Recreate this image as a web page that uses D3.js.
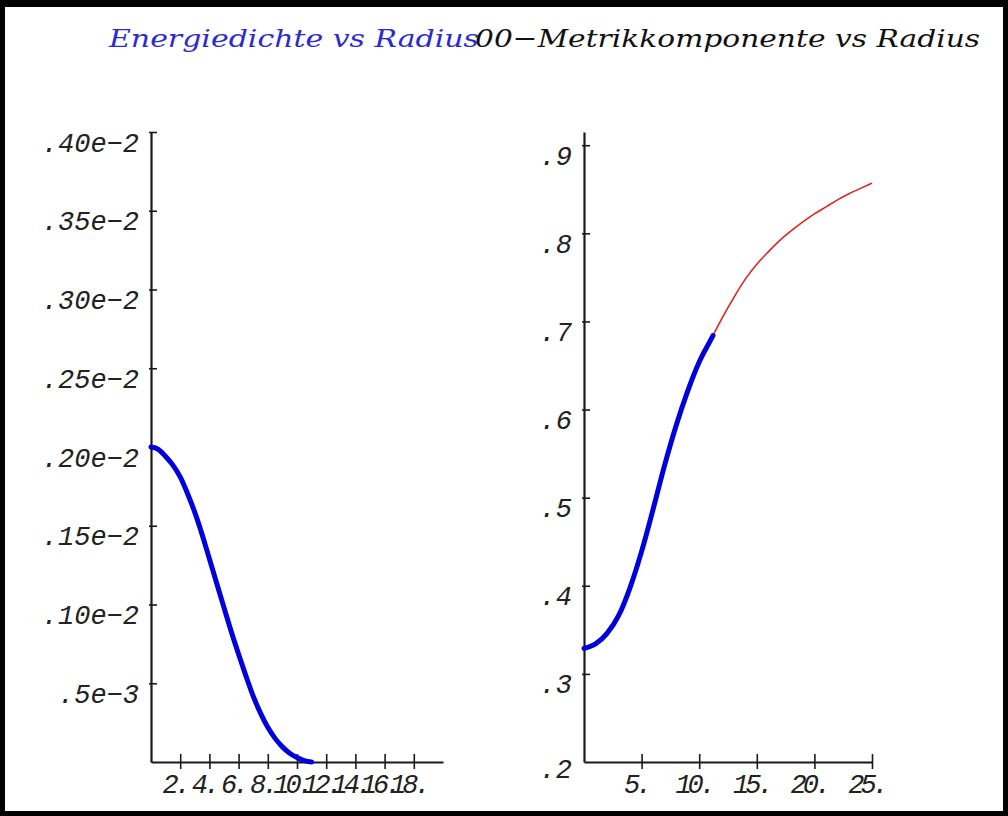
<!DOCTYPE html>
<html>
<head>
    <meta charset="utf-8">
    <style>
        body { margin: 0; background: #fff; }
    </style>
</head>

<body onload='init()'>
    <svg width="1008" height="816"></svg>
    <script src="https://d3js.org/d3.v7.min.js"></script>
    <script>
        // left plot: energy density vs radius
        var leftRadius = [0, 0.5, 1, 1.5, 2, 2.5, 3, 3.5, 4, 4.5, 5, 5.5, 6, 6.5, 7, 7.5, 8, 8.5, 9, 9.5, 10, 10.5, 11];
        var leftDensity = [0.002000, 0.001985, 0.001940, 0.001885, 0.001810, 0.001705, 0.001585, 0.001445, 0.001290,
            0.001135, 0.000980, 0.000827, 0.000684, 0.000547, 0.000418, 0.000310, 0.000220, 0.000150, 0.000096,
            0.000056, 0.000029, 0.000009, 0];

        // right plot: 00 metric component, inside (blue) and outside (red)
        var innerRadius = [0, 1, 2, 3, 4, 5, 6, 7, 8, 9, 10, 11, 11.2];
        var innerMetric = [0.329, 0.334, 0.346, 0.366, 0.398, 0.439, 0.487, 0.537, 0.582, 0.621, 0.654, 0.679, 0.684];
        var outerRadius = [11.2, 12, 13, 14, 15, 16, 17, 18, 19, 20, 21, 22, 23, 24, 25];
        var outerMetric = [0.684, 0.704, 0.727, 0.748, 0.765, 0.779, 0.792, 0.803, 0.813, 0.822, 0.830, 0.838, 0.845, 0.851, 0.857];

        // tick values and labels
        var leftXTicks = [2, 4, 6, 8, 10, 12, 14, 16, 18];
        var leftXLabels = ["2.", "4.", "6.", "8.", "10.", "12.", "14.", "16.", "18."];
        var leftYTicks = [0.0005, 0.0010, 0.0015, 0.0020, 0.0025, 0.0030, 0.0035, 0.0040];
        var leftYLabels = [".5e−3", ".10e−2", ".15e−2", ".20e−2", ".25e−2", ".30e−2", ".35e−2", ".40e−2"];
        var rightXTicks = [5, 10, 15, 20, 25];
        var rightXLabels = ["5.", "10.", "15.", "20.", "25."];
        var rightYTicks = [0.2, 0.3, 0.4, 0.5, 0.6, 0.7, 0.8, 0.9];
        var rightYLabels = [".2", ".3", ".4", ".5", ".6", ".7", ".8", ".9"];

        var titleLeft = "Energiedichte vs Radius";
        var titleRight = "00−Metrikkomponente vs Radius";

        function zip(a, b) {
            return a.map(function (v, i) { return [v, b[i]]; });
        }

        function tickFont(sel) {
            sel.attr("fill", "#222")
                .style("font-family", "Liberation Mono")
                .style("font-style", "italic")
                .style("font-size", "27px");
        }

        function drawAxes(svg, xScale, yScale, xTicks, xLabels, yTicks, yLabels) {
            var y0 = yScale.range()[0];
            var x0 = xScale.range()[0];

            var gx = svg.append("g")
                .attr("transform", "translate(0," + y0 + ")")
                .call(d3.axisBottom(xScale).tickValues(xTicks).tickSizeOuter(0)
                    .tickFormat(function (d, i) { return xLabels[i]; }));
            gx.select(".domain").attr("stroke", "#1a1a1a").attr("stroke-width", 2.2);
            gx.selectAll(".tick line").attr("y1", -8).attr("y2", 7)
                .attr("stroke", "#1a1a1a").attr("stroke-width", 1.6);
            gx.selectAll(".tick text")
                .attr("y", 31).attr("dy", null).attr("dx", -6)
                .style("letter-spacing", "-4px")
                .call(tickFont);

            var gy = svg.append("g")
                .attr("transform", "translate(" + x0 + ",0)")
                .call(d3.axisLeft(yScale).tickValues(yTicks).tickSizeOuter(0)
                    .tickFormat(function (d, i) { return yLabels[i]; }));
            gy.select(".domain").attr("stroke", "#1a1a1a").attr("stroke-width", 2.2);
            gy.selectAll(".tick line").attr("x1", 6).attr("x2", -2)
                .attr("stroke", "#1a1a1a").attr("stroke-width", 1.6);
            gy.selectAll(".tick text")
                .attr("x", -12).attr("dy", null).attr("y", 19)
                .call(tickFont);
        }

        function init() {
            var svg = d3.select("svg");

            // frame
            svg.append("rect").attr("x", 0).attr("y", 0).attr("width", 1008).attr("height", 816).attr("fill", "#000");
            svg.append("rect").attr("x", 5).attr("y", 7).attr("width", 998).attr("height", 804).attr("fill", "#fff");

            // titles
            svg.append("text")
                .attr("x", 109).attr("y", 47)
                .attr("textLength", 370).attr("lengthAdjust", "spacingAndGlyphs")
                .style("font-family", "DejaVu Serif")
                .style("font-style", "italic")
                .style("font-size", "25px")
                .attr("fill", "#2b2bd0")
                .text(titleLeft);
            svg.append("text")
                .attr("x", 475).attr("y", 47)
                .attr("textLength", 505).attr("lengthAdjust", "spacingAndGlyphs")
                .style("font-family", "DejaVu Serif")
                .style("font-style", "italic")
                .style("font-size", "25px")
                .attr("fill", "#111")
                .text(titleRight);

            // left plot
            var xLeft = d3.scaleLinear().domain([0, 20]).range([151, 443]);
            var yLeft = d3.scaleLinear().domain([0, 0.004]).range([762, 132]);
            drawAxes(svg, xLeft, yLeft, leftXTicks, leftXLabels, leftYTicks, leftYLabels);

            var lineLeft = d3.line()
                .x(function (d) { return xLeft(d[0]); })
                .y(function (d) { return yLeft(d[1]); })
                .curve(d3.curveMonotoneX);

            svg.append("path")
                .datum(zip(leftRadius, leftDensity))
                .attr("d", lineLeft)
                .style("fill", "none")
                .style("stroke", "#0000dc")
                .style("stroke-width", 5)
                .style("stroke-linecap", "round");

            // right plot
            var xRight = d3.scaleLinear().domain([0, 25]).range([584, 872]);
            var yRight = d3.scaleLinear().domain([0.2, 0.915]).range([762, 132]);
            drawAxes(svg, xRight, yRight, rightXTicks, rightXLabels, rightYTicks.slice(1), rightYLabels.slice(1));

            // origin label .2
            svg.append("text")
                .attr("x", xRight(0) - 12).attr("y", yRight(0.2) + 16)
                .attr("text-anchor", "end")
                .call(tickFont)
                .text(rightYLabels[0]);

            var lineRight = d3.line()
                .x(function (d) { return xRight(d[0]); })
                .y(function (d) { return yRight(d[1]); })
                .curve(d3.curveMonotoneX);

            svg.append("path")
                .datum(zip(outerRadius, outerMetric))
                .attr("d", lineRight)
                .style("fill", "none")
                .style("stroke", "#e02424")
                .style("stroke-width", 1.6);

            svg.append("path")
                .datum(zip(innerRadius, innerMetric))
                .attr("d", lineRight)
                .style("fill", "none")
                .style("stroke", "#0000dc")
                .style("stroke-width", 5)
                .style("stroke-linecap", "round");
        }
    </script>
</body>
</html>
